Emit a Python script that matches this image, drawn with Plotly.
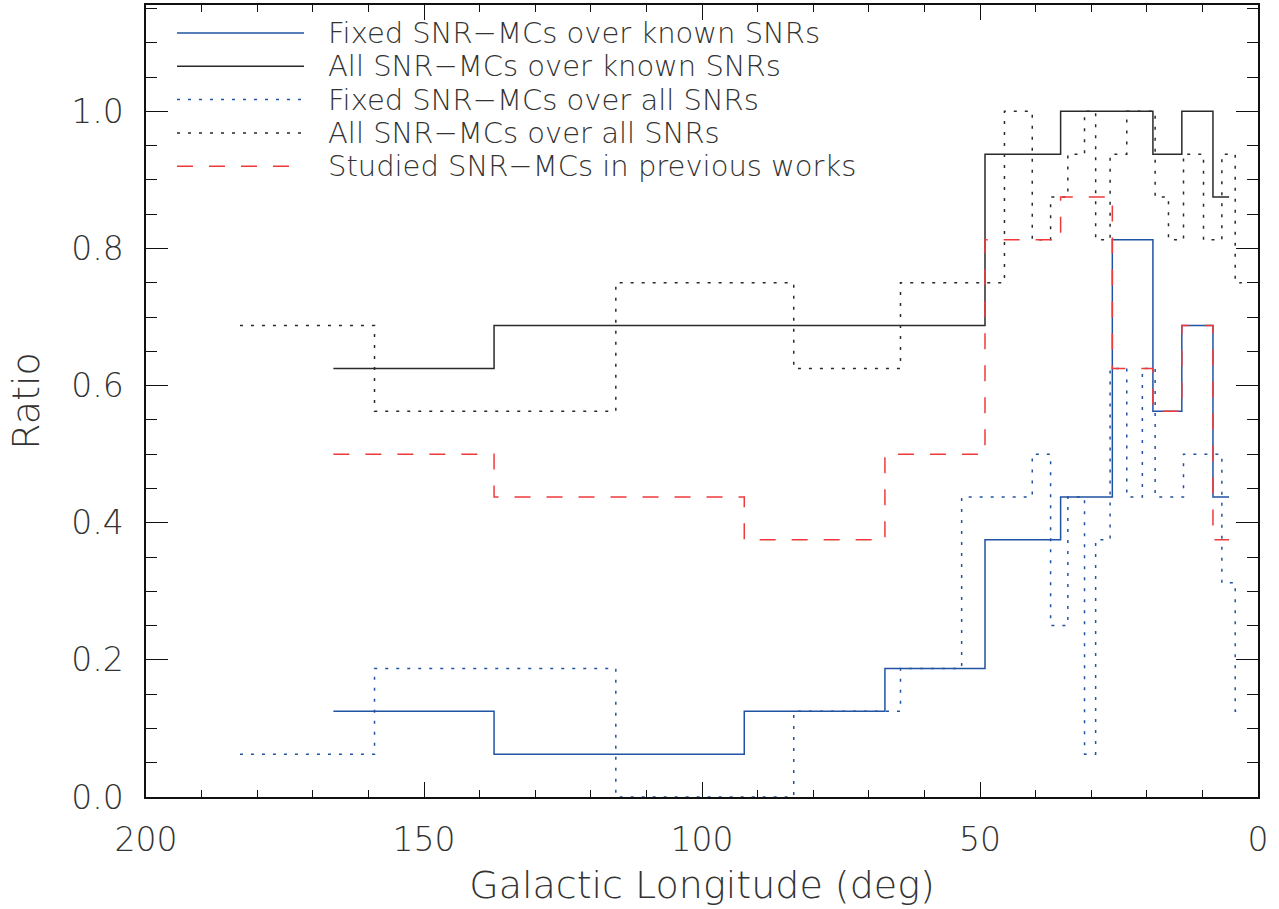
import plotly.graph_objects as go

# ---- data ----
known_edges = [166.3, 137.4, 92.4, 67.1, 49.1, 35.5, 26.2, 18.9, 13.7, 8.1, 5.2]
fixed_known = [0.125, 0.0625, 0.125, 0.1875, 0.375, 0.4375, 0.8125, 0.5625, 0.6875, 0.4375]
all_known = [0.625, 0.6875, 0.6875, 0.6875, 0.9375, 1.0, 1.0, 0.9375, 1.0, 0.875]
studied = [0.5, 0.4375, 0.375, 0.5, 0.8125, 0.875, 0.625, 0.5625, 0.6875, 0.375]

all_edges = [183.1, 158.9, 115.5, 83.5, 64.3, 53.3, 45.6, 40.6, 37.3, 34.2, 31.2,
             29.2, 26.6, 23.6, 20.8, 18.5, 16.1, 13.4, 9.8, 6.5, 4.1, 2.9]
fixed_all = [0.0625, 0.1875, 0.0, 0.125, 0.1875, 0.4375, 0.4375, 0.5, 0.25, 0.4375,
             0.0625, 0.375, 0.625, 0.4375, 0.625, 0.4375, 0.4375, 0.5, 0.5, 0.3125, 0.125]
all_all = [0.6875, 0.5625, 0.75, 0.625, 0.75, 0.75, 1.0, 0.8125, 0.875, 0.9375,
           1.0, 0.8125, 0.9375, 1.0, 1.0, 0.875, 0.8125, 0.9375, 0.8125, 0.9375, 0.75]

labels = ["Fixed SNR\u2212MCs over known SNRs", "All SNR\u2212MCs over known SNRs",
          "Fixed SNR\u2212MCs over all SNRs", "All SNR\u2212MCs over all SNRs",
          "Studied SNR\u2212MCs in previous works"]

x_ticks = [200, 150, 100, 50, 0]
y_ticks = [0.0, 0.2, 0.4, 0.6, 0.8, 1.0]

BLUE = "#2153a3"
BLACK = "#2a2a2a"
RED = "#f03a3a"
DOT = "3px,8px"
DASH = "16px,16px"
FONT = "DejaVu Sans"
TXT = "#333333"
WT = 200

series = [
    (known_edges, fixed_known, BLUE, "solid"),
    (known_edges, all_known, BLACK, "solid"),
    (all_edges, fixed_all, BLUE, DOT),
    (all_edges, all_all, BLACK, DOT),
    (known_edges, studied, RED, DASH),
]

fig = go.Figure()
for (edges, vals, col, dash), name in zip(series, labels):
    fig.add_trace(go.Scatter(
        x=edges, y=list(vals) + [vals[-1]], mode="lines", name=name,
        line=dict(color=col, width=1.5, dash=dash, shape="hv"),
        showlegend=False, hoverinfo="skip"))

W, H = 1279, 909
# plot area spans px 146..1258 horizontally, 5..797 vertically
PL, PR, PT, PB = 146, 1258, 5, 797
def px2paper_x(px):
    return (px - PL) / (PR - PL)
def px2paper_y(py):
    return (PB - py) / (PB - PT)

# manual legend (long line samples as in the original)
L_X0, L_X1, T_X = 177, 304, 326
for i, ((edges, vals, col, dash), name) in enumerate(zip(series, labels)):
    ypix = 33 + i * 33.3
    yp = px2paper_y(ypix)
    fig.add_shape(type="line", xref="paper", yref="paper",
                  x0=px2paper_x(L_X0), x1=px2paper_x(L_X1), y0=yp, y1=yp,
                  line=dict(color=col, width=1.5, dash=dash))
    fig.add_annotation(xref="paper", yref="paper", x=px2paper_x(T_X), y=yp,
                       xanchor="left", yanchor="middle", text=name, showarrow=False,
                       font=dict(family=FONT, size=29, color=TXT, weight=WT))

axis_common = dict(showline=True, linecolor="#111111", linewidth=1.5, mirror="allticks",
                   ticks="inside", tickcolor="#111111", tickwidth=1.3,
                   showgrid=False, zeroline=False,
                   tickfont=dict(family=FONT, size=33, color=TXT, weight=WT))

fig.update_xaxes(range=[200, 0], tickvals=x_ticks, ticktext=[str(v) for v in x_ticks],
                 ticklen=15, ticklabelstandoff=13,
                 minor=dict(dtick=10, ticks="inside", ticklen=7, tickcolor="#111111", tickwidth=1.3),
                 title=dict(text="Galactic Longitude (deg)", standoff=13,
                            font=dict(family=FONT, size=38, color=TXT, weight=WT)),
                 **axis_common)
fig.update_yaxes(range=[0, 1.155], tickvals=y_ticks, ticktext=["%.1f" % v for v in y_ticks],
                 ticklen=22, ticklabelstandoff=14,
                 minor=dict(dtick=0.05, ticks="inside", ticklen=11, tickcolor="#111111", tickwidth=1.3),
                 title=dict(text="Ratio", standoff=20,
                            font=dict(family=FONT, size=38, color=TXT, weight=WT)),
                 **axis_common)

fig.update_layout(width=W, height=H, plot_bgcolor="white", paper_bgcolor="white",
                  margin=dict(l=PL, r=W - PR, t=PT, b=H - PB, autoexpand=False),
                  showlegend=False)

fig.write_html("out.html")
